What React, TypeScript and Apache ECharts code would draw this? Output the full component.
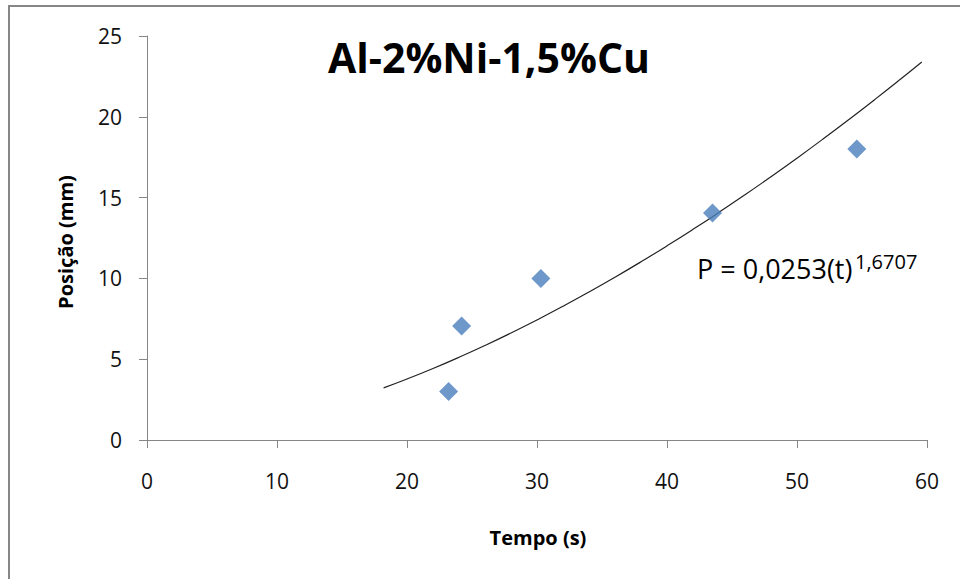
import React, { useEffect, useRef } from "react";
import * as echarts from "echarts";

const title = "Al-2%Ni-1,5%Cu";
const xName = "Tempo (s)";
const yName = "Posição (mm)";
const tempo = [23.2, 24.2, 30.3, 43.5, 54.6];
const posicao = [3.0, 7.05, 10.0, 14.05, 18.0];
const fitCoef = 0.0253;
const fitExp = 1.6707;
const fitT = [18.2, 20, 22, 24, 26, 28, 30, 32, 34, 36, 38, 40, 42, 44, 46, 48, 50, 52, 54, 56, 58, 59.6];
const eqMain = "P = 0,0253(t)";
const eqSup = "1,6707";

export default function App() {
  const ref = useRef<HTMLDivElement>(null);
  useEffect(() => {
    if (!ref.current) return;
    const chart = echarts.init(ref.current, undefined, { renderer: "svg" });
    const fit = fitT.map((t) => [t, fitCoef * Math.pow(t, fitExp)]);
    const axisColor = "#868686";
    const labelFont = { fontFamily: "Open Sans", fontSize: 21, color: "#111" };
    chart.setOption({
      animation: false,
      backgroundColor: "#fff",
      grid: { left: 147, right: 33, top: 36, bottom: 139, containLabel: false },
      xAxis: {
        type: "value",
        min: 0,
        max: 60,
        interval: 10,
        splitLine: { show: false },
        axisLine: { show: true, onZero: false, lineStyle: { color: axisColor, width: 1 } },
        axisTick: { show: true, length: 8, inside: false, lineStyle: { color: axisColor } },
        axisLabel: { ...labelFont, margin: 30 },
      },
      yAxis: {
        type: "value",
        min: 0,
        max: 25,
        interval: 5,
        splitLine: { show: false },
        axisLine: { show: true, onZero: false, lineStyle: { color: axisColor, width: 1 } },
        axisTick: { show: true, length: 8, inside: false, lineStyle: { color: axisColor } },
        axisLabel: { ...labelFont, margin: 25 },
      },
      series: [
        {
          type: "line",
          data: fit,
          showSymbol: false,
          symbol: "none",
          smooth: true,
          lineStyle: { color: "#222", width: 1.2 },
          z: 2,
        },
        {
          type: "scatter",
          data: tempo.map((t, i) => [t, posicao[i]]),
          symbol: "diamond",
          symbolSize: 19,
          itemStyle: { color: "#4A7EBB" },
          z: 3,
        },
      ],
      graphic: [
        {
          type: "rect",
          shape: { x: 9, y: 6, width: 1200, height: 1200 },
          style: { fill: "none", stroke: "#878787", lineWidth: 2 },
          silent: true,
        },
        {
          type: "text",
          x: 489,
          y: 57,
          style: {
            text: title,
            fontFamily: "Open Sans",
            fontWeight: "bold",
            fontSize: 41,
            fill: "#000",
            align: "center",
            verticalAlign: "middle",
          },
        },
        {
          type: "text",
          x: 538,
          y: 537,
          style: {
            text: xName,
            fontFamily: "Open Sans",
            fontWeight: "bold",
            fontSize: 20,
            fill: "#000",
            align: "center",
            verticalAlign: "middle",
          },
        },
        {
          type: "text",
          x: 65,
          y: 242,
          rotation: Math.PI / 2,
          style: {
            text: yName,
            fontFamily: "Open Sans",
            fontWeight: "bold",
            fontSize: 20,
            fill: "#000",
            align: "center",
            verticalAlign: "middle",
          },
        },
        {
          type: "text",
          x: 697,
          y: 268,
          style: {
            text: eqMain,
            fontFamily: "Open Sans",
            fontSize: 27,
            fill: "#000",
            align: "left",
            verticalAlign: "middle",
          },
        },
        {
          type: "text",
          x: 855,
          y: 261,
          style: {
            text: eqSup,
            fontFamily: "Open Sans",
            fontSize: 20,
            fill: "#000",
            align: "left",
            verticalAlign: "middle",
          },
        },
      ],
    });
    return () => chart.dispose();
  }, []);
  return (
    <div
      ref={ref}
      style={{ position: "absolute", left: 0, top: 0, width: 960, height: 579 }}
    />
  );
}
